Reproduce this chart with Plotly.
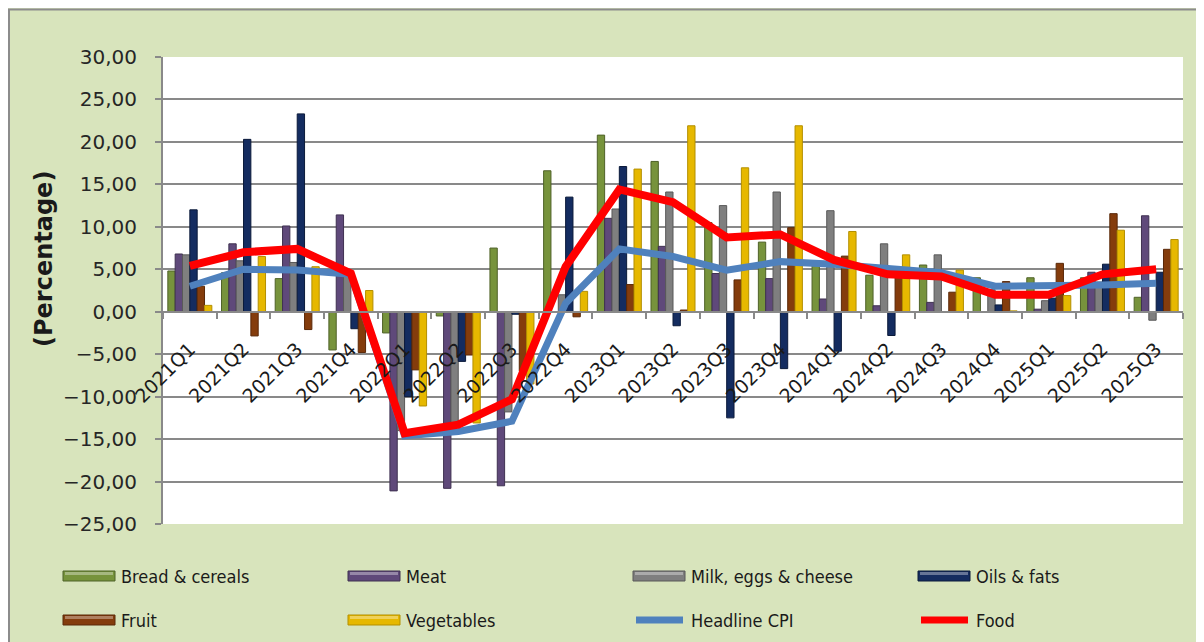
import plotly.graph_objects as go

categories = ["2021Q1", "2021Q2", "2021Q3", "2021Q4", "2022Q1", "2022Q2", "2022Q3", "2022Q4",
              "2023Q1", "2023Q2", "2023Q3", "2023Q4", "2024Q1", "2024Q2", "2024Q3", "2024Q4",
              "2025Q1", "2025Q2", "2025Q3"]

bread = [4.8, 4.6, 3.9, -4.5, -2.5, -0.5, 7.5, 16.6, 20.8, 17.7, 10.5, 8.2, 5.5, 4.3, 5.5, 4.0, 4.0, 4.0, 1.7]
meat = [6.8, 8.0, 10.1, 11.4, -21.1, -20.8, -20.5, 0.0, 11.0, 7.7, 4.5, 3.9, 1.5, 0.7, 1.1, 0.0, 0.3, 4.65, 11.3]
milk = [6.7, 6.0, 5.8, 4.5, -14.0, -13.3, -11.8, 2.0, 12.1, 14.1, 12.5, 14.1, 11.9, 8.0, 6.7, 2.6, 1.3, 3.5, -1.0]
oils = [12.0, 20.3, 23.3, -2.0, -10.0, -5.85, -0.3, 13.5, 17.1, -1.65, -12.5, -6.7, -4.65, -2.8, 0.0, 0.8, 1.6, 5.6, 4.65]
fruit = [3.0, -2.85, -2.1, -4.8, -6.85, -5.1, -7.0, -0.6, 3.2, 0.2, 3.75, 9.9, 6.55, 4.8, 2.3, 3.55, 5.7, 11.55, 7.35]
vegetables = [0.75, 6.5, 5.3, 2.5, -11.1, -13.1, -8.5, 2.4, 16.8, 21.9, 16.95, 21.9, 9.45, 6.7, 4.9, 0.1, 1.9, 9.6, 8.5]
headline_cpi = [3.0, 5.0, 4.9, 4.4, -14.6, -14.1, -12.9, 1.0, 7.4, 6.5, 4.9, 5.9, 5.6, 5.2, 4.6, 3.0, 3.0, 3.15, 3.35]
food = [5.4, 7.0, 7.4, 4.5, -14.3, -13.3, -10.3, 5.3, 14.4, 12.9, 8.75, 9.1, 6.1, 4.4, 4.15, 2.0, 2.0, 4.4, 5.0]

y_ticks = [30, 25, 20, 15, 10, 5, 0, -5, -10, -15, -20, -25]

bar_series = [
    ("Bread & cereals", bread, "#77933C", "#4F6228"),
    ("Meat", meat, "#5F497A", "#3F3151"),
    ("Milk, eggs & cheese", milk, "#7F7F7F", "#595959"),
    ("Oils & fats", oils, "#142C60", "#0B1A3A"),
    ("Fruit", fruit, "#843C0C", "#5A2808"),
    ("Vegetables", vegetables, "#E6B800", "#B38F00"),
]
line_series = [
    ("Headline CPI", headline_cpi, "#4F81BD", 7),
    ("Food", food, "#FF0000", 8),
]

W, H = 1204, 642
OFF = 8  # page body margin
ML, MR, MT, MB = 155, 29, 49, 126
PW = W - ML - MR
PH = H - MT - MB


def px(sx):
    return (sx - OFF - ML) / PW


def py(sy):
    return (H - MB - (sy - OFF)) / PH


fig = go.Figure()
for name, vals, col, edge in bar_series:
    fig.add_trace(go.Bar(x=categories, y=vals, name=name,
                         marker=dict(color=col, line=dict(color=edge, width=1))))
for name, vals, col, w in line_series:
    fig.add_trace(go.Scatter(x=categories, y=vals, name=name, mode="lines",
                             line=dict(color=col, width=w)))

green_bg = "#D8E4BC"
grid = "#898989"

shapes = []
annotations = []
# chart border (left and top)
shapes.append(dict(type="line", xref="paper", yref="paper", x0=px(9), x1=px(9), y0=py(9), y1=py(H + 20),
                   line=dict(color="#8C8C8C", width=2)))
shapes.append(dict(type="line", xref="paper", yref="paper", x0=px(8), x1=px(W + 20), y0=py(9.5), y1=py(9.5),
                   line=dict(color="#8C8C8C", width=2)))

# custom legend
legend_items = [(s[0], s[2], s[3], "bar") for s in bar_series] + \
               [(s[0], s[2], None, "line") for s in line_series]
col_x = [63, 348, 633, 918]
row_y = [576, 620]
for i, (name, col, edge, kind) in enumerate(legend_items):
    r, c = divmod(i, 4)
    x0 = col_x[c]
    yc = row_y[r]
    if kind == "bar":
        shapes.append(dict(type="rect", xref="paper", yref="paper",
                           x0=px(x0), x1=px(x0 + 52), y0=py(yc + 5), y1=py(yc - 5),
                           fillcolor=col, line=dict(color=edge, width=1)))
        shapes.append(dict(type="rect", xref="paper", yref="paper",
                           x0=px(x0 + 2), x1=px(x0 + 50), y0=py(yc - 1), y1=py(yc - 4),
                           fillcolor="rgba(255,255,255,0.35)", line=dict(width=0)))
    else:
        shapes.append(dict(type="line", xref="paper", yref="paper",
                           x0=px(x0 + 3), x1=px(x0 + 50), y0=py(yc), y1=py(yc),
                           line=dict(color=col, width=7)))
    annotations.append(dict(text=name, xref="paper", yref="paper", x=px(x0 + 56), y=py(yc),
                            xanchor="left", yanchor="middle", showarrow=False,
                            font=dict(family="DejaVu Sans Condensed, Liberation Sans Narrow, Liberation Sans",
                                      size=18, color="#1a1a1a")))

annotations.append(dict(text="<b>(Percentage)</b>", xref="paper", yref="paper",
                        x=px(44), y=py(259), textangle=-90, showarrow=False,
                        xanchor="center", yanchor="middle",
                        font=dict(family="DejaVu Sans", size=24, color="#1a1a1a")))

fig.update_layout(
    width=W, height=H,
    margin=dict(l=ML, r=MR, t=MT, b=MB, pad=0),
    paper_bgcolor=green_bg,
    plot_bgcolor="white",
    separators=",.",
    barmode="group",
    bargap=0.18,
    bargroupgap=0.0,
    showlegend=False,
    shapes=shapes,
    annotations=annotations,
    font=dict(family="DejaVu Sans", color="#222222"),
)
fig.update_yaxes(
    range=[-25, 30], tickvals=y_ticks, tickformat=".2f",
    showgrid=True, gridcolor=grid, gridwidth=2,
    zeroline=False, showline=True, linecolor=grid, linewidth=2,
    ticks="outside", ticklen=6, tickcolor=grid, tickwidth=2,
    ticklabelstandoff=14,
    tickfont=dict(family="DejaVu Sans", size=20, color="#262626"),
)
fig.update_xaxes(
    type="category", anchor="free", position=25 / 55,
    showgrid=False, showline=True, linecolor=grid, linewidth=2,
    ticks="outside", tickson="boundaries", ticklen=6, tickcolor=grid, tickwidth=2,
    tickangle=-45, ticklabelstandoff=18,
    tickfont=dict(family="DejaVu Sans", size=19, color="#1a1a1a"),
)

fig.write_html("out.html")
